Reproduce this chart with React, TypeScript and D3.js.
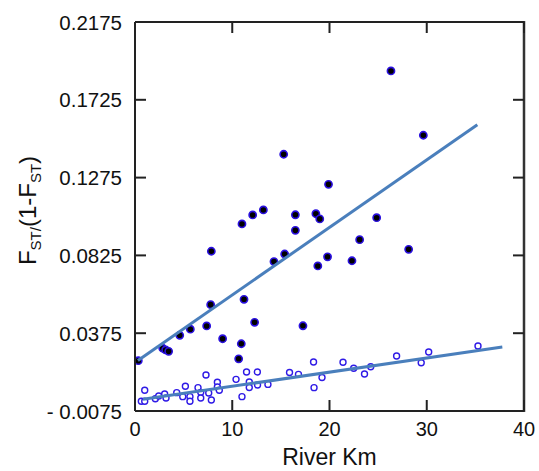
import React from "react";
import * as d3 from "d3";

const filledKm = [0.34, 2.85, 3.15, 3.46, 4.6, 5.69, 7.37, 7.78, 7.85, 9.01, 10.66, 10.93, 11.0, 11.21, 12.1, 12.3, 13.2, 14.29, 15.39, 16.49, 16.49, 17.27, 18.6, 19.0, 18.8, 19.8, 15.29, 19.9, 26.32, 29.65, 24.85, 23.1, 22.31, 28.14];
const filledVal = [0.0216, 0.0288, 0.0278, 0.027, 0.0363, 0.0398, 0.0417, 0.054, 0.0849, 0.0343, 0.0227, 0.0314, 0.1007, 0.0571, 0.1059, 0.0438, 0.1088, 0.0789, 0.0833, 0.106, 0.097, 0.0418, 0.1066, 0.1036, 0.0764, 0.0817, 0.141, 0.1236, 0.1892, 0.152, 0.1043, 0.0916, 0.0794, 0.086];

const openKm = [0.65, 1.0, 1.0, 2.09, 2.44, 3.05, 3.19, 4.29, 4.91, 5.18, 5.65, 5.65, 6.48, 6.76, 6.76, 7.3, 7.58, 7.85, 8.47, 8.47, 8.67, 10.39, 11.0, 11.47, 11.75, 11.75, 12.58, 12.6, 13.67, 15.89, 16.81, 18.36, 18.41, 19.23, 21.39, 22.49, 23.6, 24.24, 26.9, 29.43, 30.2, 35.27];
const openVal = [-0.0019, -0.0019, 0.0045, -0.0004, 0.0012, 0.0023, 0.0, 0.0031, 0.0008, 0.0068, 0.0008, -0.0019, 0.006, 0.0033, 0.0, 0.0133, 0.0029, -0.0011, 0.0091, 0.0064, 0.0045, 0.0108, 0.0008, 0.0151, 0.0093, 0.0061, 0.0151, 0.0075, 0.0079, 0.0148, 0.0137, 0.0208, 0.006, 0.0119, 0.0207, 0.0172, 0.0139, 0.0181, 0.0243, 0.0204, 0.0266, 0.0301];

const fitFilledKm = [0.3, 35.2];
const fitFilledVal = [0.0217, 0.1581];
const fitOpenKm = [0.82, 37.77];
const fitOpenVal = [-0.0007, 0.0295];

const xTicks = [0, 10, 20, 30, 40];
const yTicks = [-0.0075, 0.0375, 0.0825, 0.1275, 0.1725, 0.2175];
const yTickLabels = ["- 0.0075", "0.0375", "0.0825", "0.1275", "0.1725", "0.2175"];

export default function App() {
  const W = 539, H = 471;
  const L = 135, R = 524, T = 22, B = 411;
  const x = d3.scaleLinear().domain([0, 40]).range([L, R]);
  const y = d3.scaleLinear().domain([-0.0075, 0.2175]).range([B, T]);
  const line = d3.line<[number, number]>().x(d => x(d[0])).y(d => y(d[1]));
  const fitF = fitFilledKm.map((k, i) => [k, fitFilledVal[i]] as [number, number]);
  const fitO = fitOpenKm.map((k, i) => [k, fitOpenVal[i]] as [number, number]);
  const font = "'Liberation Sans', Arial, sans-serif";
  const axisColor = "#222";
  const tl = 11;
  return (
    <svg width={W} height={H} style={{ position: "absolute", left: 0, top: 0 }} fontFamily={font}>
      <rect x={0} y={0} width={W} height={H} fill="#fff" />
      {openKm.map((k, i) => (
        <circle key={"o" + i} cx={x(k)} cy={y(openVal[i])} r={3} fill="#fff" stroke="#2f1ae6" strokeWidth={1.4} />
      ))}
      {filledKm.map((k, i) => (
        <circle key={"f" + i} cx={x(k)} cy={y(filledVal[i])} r={3.6} fill="#000" stroke="#2a10e0" strokeWidth={1.6} />
      ))}
      <path d={line(fitF) || ""} fill="none" stroke="#4a7fbc" strokeWidth={3} />
      <path d={line(fitO) || ""} fill="none" stroke="#4a7fbc" strokeWidth={3} />
      <line x1={L} x2={R} y1={T} y2={T} stroke={axisColor} strokeWidth={2} />
      <line x1={L} x2={R} y1={B} y2={B} stroke={axisColor} strokeWidth={2} />
      <line x1={L} x2={L} y1={T} y2={B} stroke={axisColor} strokeWidth={2} />
      <line x1={R} x2={R} y1={T - 1} y2={B + 1} stroke="#333" strokeWidth={2.5} />
      {xTicks.map(t => (
        <g key={"xt" + t}>
          <line x1={x(t)} x2={x(t)} y1={B} y2={B - tl} stroke={axisColor} strokeWidth={2} />
          <line x1={x(t)} x2={x(t)} y1={T} y2={T + tl} stroke={axisColor} strokeWidth={2} />
          <text x={x(t)} y={436} fontSize={20} textAnchor="middle" fill="#111">{t}</text>
        </g>
      ))}
      {yTicks.map((t, i) => (
        <g key={"yt" + i}>
          <line x1={L} x2={L + tl} y1={y(t)} y2={y(t)} stroke={axisColor} strokeWidth={2} />
          <line x1={R} x2={R - tl} y1={y(t)} y2={y(t)} stroke={axisColor} strokeWidth={2} />
          <text x={122} y={y(t) + 7.5} fontSize={20.5} textAnchor="end" fill="#111">{yTickLabels[i]}</text>
        </g>
      ))}
      <text x={(L + R) / 2} y={465} fontSize={23} textAnchor="middle" fill="#111">River Km</text>
      <text transform={`translate(36, ${(T + B) / 2 - 6}) rotate(-90)`} fontSize={24} textAnchor="middle" fill="#111">
        <tspan>F</tspan>
        <tspan fontSize={15} dy={5}>ST/</tspan>
        <tspan dy={-5}>(1-F</tspan>
        <tspan fontSize={15} dy={5}>ST</tspan>
        <tspan dy={-5}>)</tspan>
      </text>
    </svg>
  );
}
